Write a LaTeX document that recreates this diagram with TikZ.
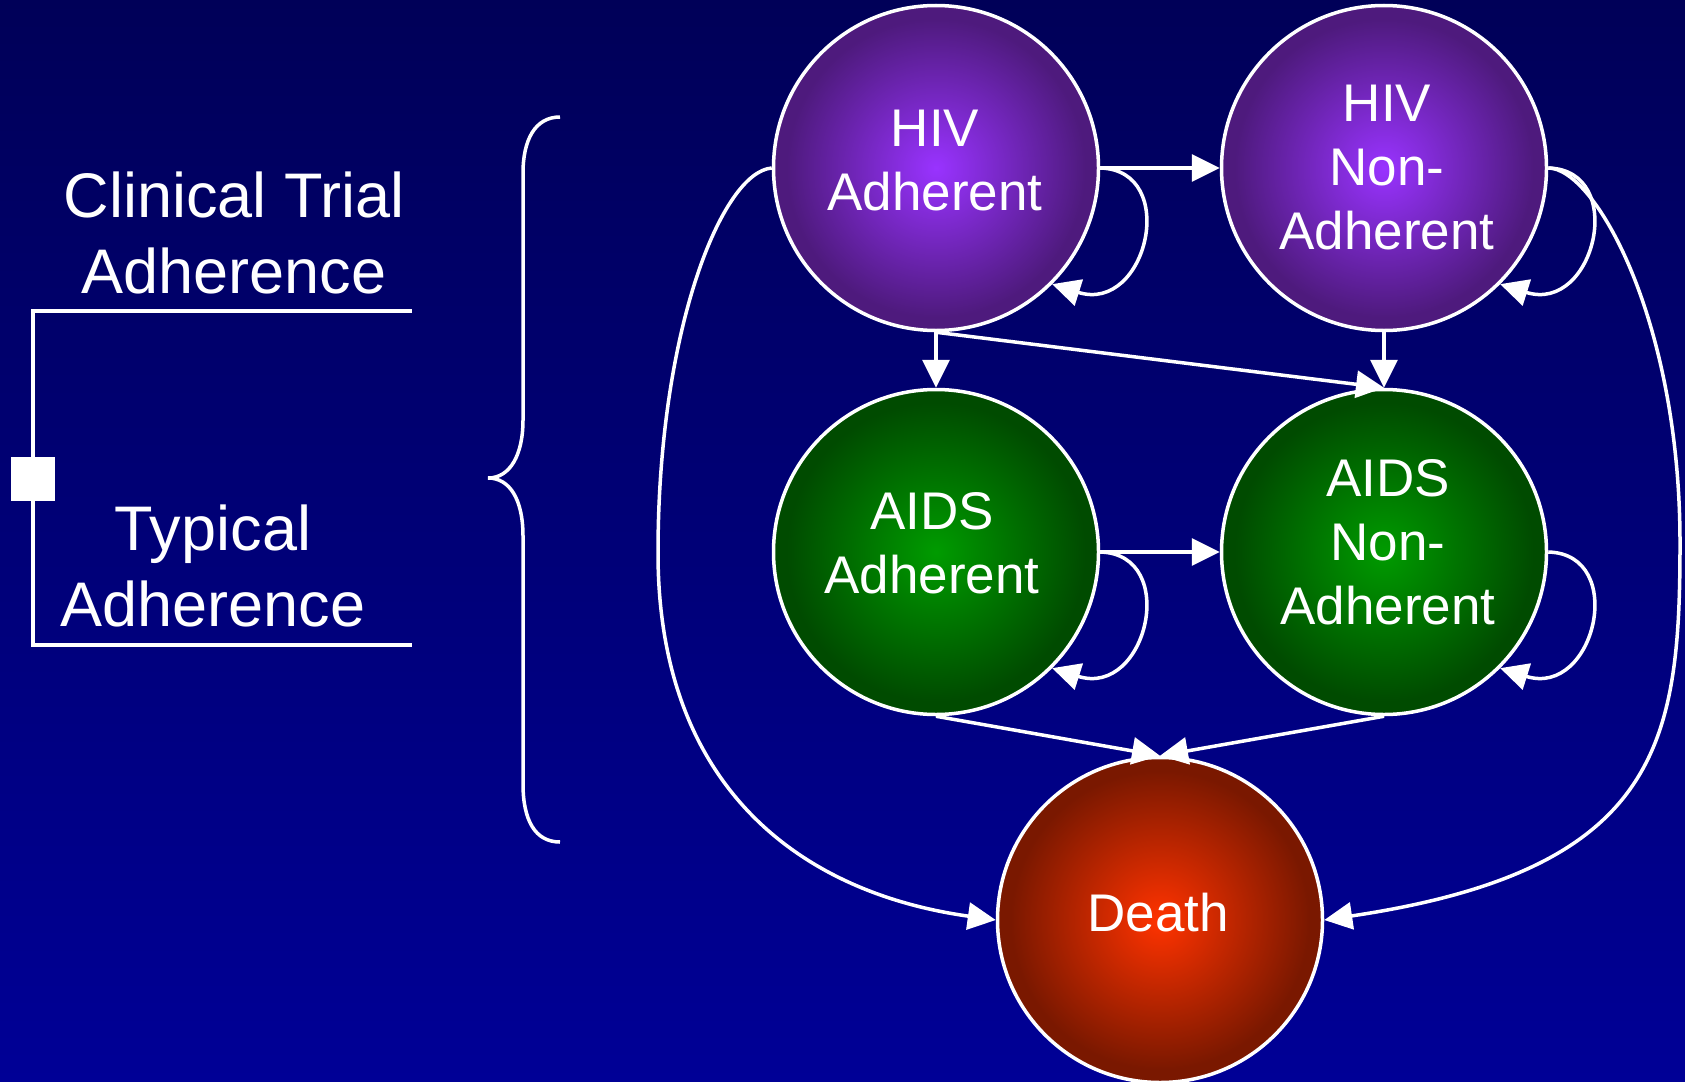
\documentclass[tikz,border=0pt]{standalone}
\usepackage{fontspec}
\setmainfont{Liberation Sans}
\usetikzlibrary{arrows.meta}
\definecolor{bgtop}{RGB}{0,0,88}
\definecolor{bgbot}{RGB}{0,0,150}
\definecolor{purpIn}{RGB}{153,51,255}
\definecolor{purpOut}{RGB}{78,26,125}
\definecolor{grnIn}{RGB}{0,155,0}
\definecolor{grnOut}{RGB}{0,75,0}
\definecolor{redIn}{RGB}{255,51,0}
\definecolor{redOut}{RGB}{122,24,0}
\pgfdeclareradialshading{purpball}{\pgfpoint{0bp}{0bp}}{color(0bp)=(purpIn); color(23bp)=(purpOut); color(25bp)=(purpOut); color(50bp)=(purpOut)}
\pgfdeclareradialshading{grnball}{\pgfpoint{0bp}{0bp}}{color(0bp)=(grnIn); color(23bp)=(grnOut); color(25bp)=(grnOut); color(50bp)=(grnOut)}
\pgfdeclareradialshading{redball}{\pgfpoint{0bp}{0bp}}{color(0bp)=(redIn); color(23bp)=(redOut); color(25bp)=(redOut); color(50bp)=(redOut)}
\tikzset{
  state/.style={circle, draw=white, line width=3.5pt, minimum size=325pt, inner sep=0pt},
  lbl/.style={text=white, align=center, font=\fontsize{53}{64}\selectfont},
  side/.style={text=white, align=center, font=\fontsize{63}{76}\selectfont},
  arr/.style={draw=white, line width=3.5pt, -{Triangle[length=28pt,width=27pt]}},
  wline/.style={draw=white, line width=3.5pt},
}
\begin{document}
\begin{tikzpicture}[x=1pt,y=-1pt]
\useasboundingbox (0,0) rectangle (1685,1081);
\shade[top color=bgtop, bottom color=bgbot] (0,0) rectangle (1685,1081);

% states
\node[state, shading=purpball] (ha)  at (936,168) {};
\node[state, shading=purpball] (hna) at (1384,168) {};
\node[state, shading=grnball]  (aa)  at (936,552) {};
\node[state, shading=grnball]  (ana) at (1384,552) {};
\node[state, shading=redball]  (dth) at (1160,920) {};

\node[lbl] (ha-t)  at (935,161)  {HIV\\Adherent};
\node[lbl] (hna-t) at (1387,168) {HIV\\Non-\\Adherent};
\node[lbl] (aa-t)  at (932,543)  {AIDS\\Adherent};
\node[lbl] (ana-t) at (1388,542) {AIDS\\Non-\\Adherent};
\node[lbl] (dth-t) at (1158,913) {Death};

% transitions
\draw[arr] (ha) -- (hna);
\draw[arr] (ha) -- (aa);
\draw[arr] (hna) -- (ana);
\draw[arr] (aa) -- (ana);
\draw[arr] (ha.south) -- (ana.north);
\draw[arr] (aa.south) -- (dth.north);
\draw[arr] (ana.south) -- (dth.north);

% self loops
\draw[arr] (ha.east) .. controls +(80,2) and +(95,30) .. (ha.-45);
\draw[arr] (hna.east) .. controls +(80,2) and +(95,30) .. (hna.-45);
\draw[arr] (aa.east) .. controls +(80,2) and +(95,30) .. (aa.-45);
\draw[arr] (ana.east) .. controls +(80,2) and +(95,30) .. (ana.-45);

% long transitions to death
\coordinate (lb) at (658,553);
\coordinate (rb) at (1680,543);
\draw[arr] (ha.west) .. controls (722,172) and (658,330) .. (lb) .. controls (658,783) and (796,892) .. (dth.west);
\draw[arr] (hna.east) .. controls (1595,168) and (1680,320) .. (rb) .. controls (1680,743) and (1660,870) .. (dth.east);

% brace
\draw[wline, line width=3.5pt] (560,117) .. controls (535,117) and (523,140) .. (523,173) -- (523,420)
  .. controls (523,455) and (510,478) .. (488,478)
  .. controls (510,478) and (523,500) .. (523,536) -- (523,784)
  .. controls (523,820) and (535,842) .. (560,842);

% decision node and branches
\node[fill=white, minimum width=44pt, minimum height=44pt, inner sep=0pt] (dec) at (33,479) {};
\coordinate (ctend) at (412,311);
\coordinate (tyend) at (412,645);
\draw[wline] (dec.north) -- (dec.north |- ctend) -- (ctend);
\draw[wline] (dec.south) -- (dec.south |- tyend) -- (tyend);

\node[side] (ct) at (234,232.5) {Clinical Trial\\Adherence};
\node[side] (ty) at (213,566) {Typical\\Adherence};
\end{tikzpicture}
\end{document}
